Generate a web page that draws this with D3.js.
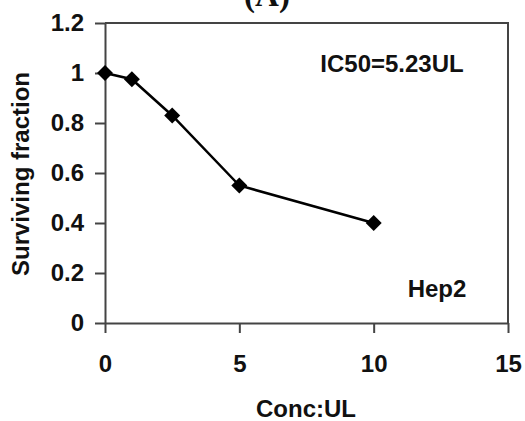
<!DOCTYPE html>
<html>
<head>
<meta charset="utf-8">
<script src="https://cdn.jsdelivr.net/npm/d3@7"></script>
<style>
  body { margin: 0; background: #fff; }
  text { font-family: "Liberation Sans", Arial, sans-serif; font-weight: bold; fill: #111; }
</style>
</head>
<body>
<svg class="chart"></svg>
<script>
const width = 525,
  height = 421;
const conc = [0, 1, 2.5, 5, 10];
const surviving = [1.0, 0.975, 0.83, 0.55, 0.40];
const xTicks = [0, 5, 10, 15];
const yTicks = [0, 0.2, 0.4, 0.6, 0.8, 1, 1.2];
const yTickLabels = ["0", "0.2", "0.4", "0.6", "0.8", "1", "1.2"];

const axisColor = "#444";

let x = d3.scaleLinear()
  .domain([0, 15])
  .range([105, 508]);
let y = d3.scaleLinear()
  .domain([0, 1.2])
  .range([323, 23]);

let chart = d3.select(".chart")
  .attr("width", width)
  .attr("height", height);

// title, mostly cut off at the top
chart.append("text")
  .attr("x", 267)
  .attr("y", 6)
  .attr("text-anchor", "middle")
  .style("font-family", "'Liberation Serif', 'Times New Roman', serif")
  .style("font-size", "33px")
  .text("(A)");

// frame (top and right)
chart.append("path")
  .attr("d", `M${x(0)},${y(1.2)}H${x(15)}V${y(0)}`)
  .attr("fill", "none")
  .attr("stroke", axisColor)
  .attr("stroke-width", 2);

let yAxis = d3.axisLeft(y)
  .tickValues(yTicks)
  .tickFormat((d, i) => yTickLabels[i])
  .tickSize(10)
  .tickSizeOuter(0)
  .tickPadding(11);
let gy = chart.append("g")
  .attr("transform", `translate(${x(0)},0)`)
  .call(yAxis);

let xAxis = d3.axisBottom(x)
  .tickValues(xTicks)
  .tickFormat(d3.format("d"))
  .tickSize(10)
  .tickSizeOuter(0)
  .tickPadding(22);
let gx = chart.append("g")
  .attr("transform", `translate(0,${y(0)})`)
  .call(xAxis);

[gx, gy].forEach(g => {
  g.select(".domain").attr("stroke", axisColor).attr("stroke-width", 2);
  g.selectAll(".tick line").attr("stroke", axisColor).attr("stroke-width", 2);
  g.selectAll(".tick text")
    .style("font-family", "'Liberation Sans', Arial, sans-serif")
    .style("font-weight", "bold")
    .style("font-size", "24px")
    .attr("fill", "#111");
});

// series line
let line = d3.line()
  .x((d, i) => x(conc[i]))
  .y(d => y(d));
chart.append("path")
  .datum(surviving)
  .attr("d", line)
  .attr("fill", "none")
  .attr("stroke", "#000")
  .attr("stroke-width", 2.5);

// diamond markers
chart.append("g").selectAll("path")
  .data(surviving)
  .enter().append("path")
  .attr("transform", (d, i) => `translate(${x(conc[i])},${y(d)})`)
  .attr("d", "M0,-8L8,0L0,8L-8,0Z")
  .attr("fill", "#000");

// annotations
chart.append("text")
  .attr("x", 392)
  .attr("y", 72)
  .attr("text-anchor", "middle")
  .style("font-size", "24px")
  .text("IC50=5.23UL");

chart.append("text")
  .attr("x", 437)
  .attr("y", 297)
  .attr("text-anchor", "middle")
  .style("font-size", "24px")
  .text("Hep2");

// axis titles
chart.append("text")
  .attr("x", 306)
  .attr("y", 417)
  .attr("text-anchor", "middle")
  .style("font-size", "24px")
  .text("Conc:UL");

chart.append("text")
  .attr("transform", "translate(29,174) rotate(-90)")
  .attr("text-anchor", "middle")
  .style("font-size", "24px")
  .text("Surviving fraction");
</script>
</body>
</html>
